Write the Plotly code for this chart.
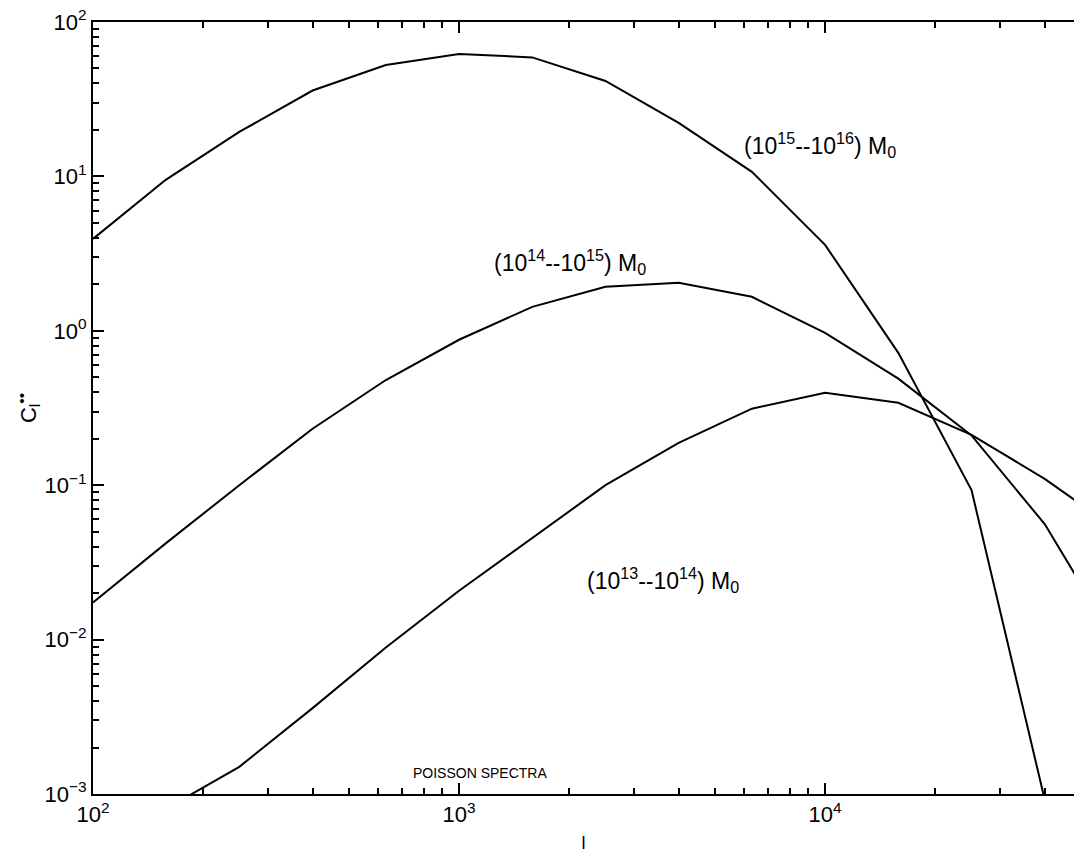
import plotly.graph_objects as go

# multipole l (sampled at 0.2 dex)
ell = [100, 158, 251, 398, 631, 1000, 1585, 2512, 3981, 6310, 10000, 15850, 25120, 39810, 63100]

# Poisson spectra C_l for three mass ranges
c_15_16 = [3.94, 9.5, 19.4, 36, 52.7, 62, 59, 41.5, 22.2, 10.7, 3.6, 0.72, 0.093, 0.00092, None]
c_14_15 = [0.0174, 0.042, 0.10, 0.232, 0.48, 0.875, 1.43, 1.93, 2.05, 1.66, 0.97, 0.49, 0.21, 0.056, 0.0091]
c_13_14 = [None, 0.0008, 0.0015, 0.0036, 0.0089, 0.0207, 0.0457, 0.10, 0.188, 0.313, 0.397, 0.342, 0.212, 0.110, 0.051]

x_major = [100, 1000, 10000]
x_major_text = ["10<sup>2</sup>", "10<sup>3</sup>", "10<sup>4</sup>"]
y_major = [1e-3, 1e-2, 1e-1, 1, 10, 100]
y_major_text = ["10<sup>−3</sup>", "10<sup>−2</sup>", "10<sup>−1</sup>", "10<sup>0</sup>", "10<sup>1</sup>", "10<sup>2</sup>"]

x_minor = [m * d for d in (100, 1000, 10000) for m in range(2, 10)]
y_minor = [m * d for d in (1e-3, 1e-2, 1e-1, 1, 10) for m in range(2, 10)]

line = dict(color="black", width=2)
fig = go.Figure()
for ys in (c_15_16, c_14_15, c_13_14):
    fig.add_trace(go.Scatter(x=ell, y=ys, mode="lines", line=line, showlegend=False,
                             connectgaps=False))

font = dict(family="Liberation Sans, Arial, sans-serif", color="black")

fig.update_layout(
    width=1074, height=857,
    margin=dict(l=93, r=0, t=22, b=63),
    paper_bgcolor="white", plot_bgcolor="white",
    font=dict(**font, size=22),
    xaxis=dict(
        type="log", range=[2, 4.68],
        tickvals=x_major, ticktext=x_major_text,
        ticks="inside", ticklen=11, tickwidth=2, tickcolor="black",
        showline=True, linecolor="black", linewidth=2, mirror="ticks",
        showgrid=False, zeroline=False,
        minor=dict(tickvals=x_minor, ticks="inside", ticklen=6, tickwidth=1.5,
                   tickcolor="black", showgrid=False),
        title=dict(text="l", font=dict(size=18), standoff=10),
        tickfont=dict(size=22),
    ),
    yaxis=dict(
        type="log", range=[-3, 2],
        tickvals=y_major, ticktext=y_major_text,
        ticks="inside", ticklen=11, tickwidth=2, tickcolor="black",
        showline=True, linecolor="black", linewidth=2,
        showgrid=False, zeroline=False,
        minor=dict(tickvals=y_minor, ticks="inside", ticklen=6, tickwidth=1.5,
                   tickcolor="black", showgrid=False),
        title=dict(text="C<sub>l</sub><sup>••</sup>", font=dict(size=22), standoff=2),
        tickfont=dict(size=22),
    ),
)

ann_font = dict(**font, size=23)
fig.add_annotation(x=3.773, y=1.203, xref="x", yref="y", text="(10<sup>15</sup>--10<sup>16</sup>) M<sub>0</sub>",
                   showarrow=False, xanchor="left", yanchor="middle", font=ann_font)
fig.add_annotation(x=3.090, y=0.446, xref="x", yref="y", text="(10<sup>14</sup>--10<sup>15</sup>) M<sub>0</sub>",
                   showarrow=False, xanchor="left", yanchor="middle", font=ann_font)
fig.add_annotation(x=3.344, y=-1.614, xref="x", yref="y", text="(10<sup>13</sup>--10<sup>14</sup>) M<sub>0</sub>",
                   showarrow=False, xanchor="left", yanchor="middle", font=ann_font)
fig.add_annotation(x=3.057, y=-2.864, xref="x", yref="y", text="POISSON SPECTRA",
                   showarrow=False, xanchor="center", yanchor="middle", font=dict(**font, size=14))

fig.write_html("out.html")
